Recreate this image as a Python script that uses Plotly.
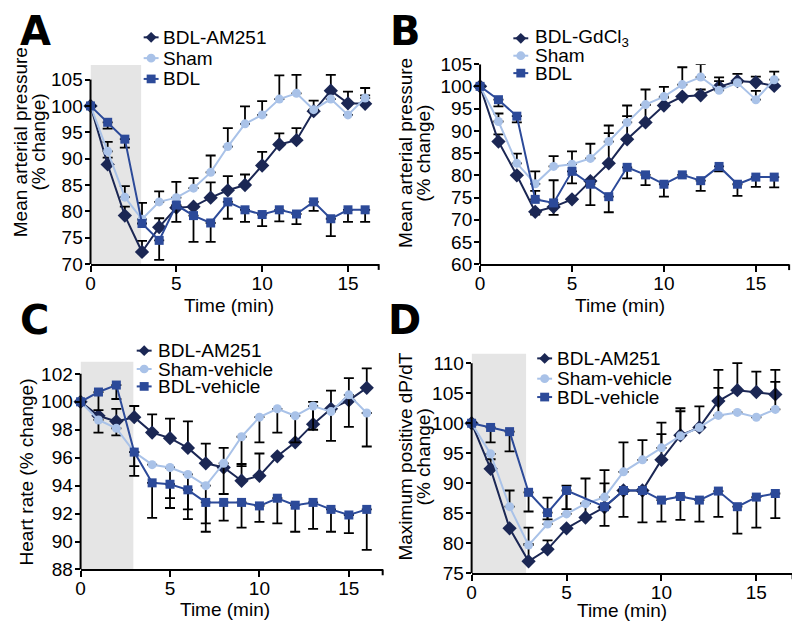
import plotly.graph_objects as go

W, H = 800, 636

time_min = list(range(17))

# ---- panel A : mean arterial pressure, AM251 ----
a_am251 = [100, 88.9, 79.2, 72.3, 77.0, 80.7, 80.9, 82.6, 84.0, 85.0, 88.7, 92.7, 93.5, 99.0, 102.9, 100.5, 100.4]
a_sham = [100, 91.4, 82.7, 78.5, 81.8, 82.6, 84.4, 87.4, 92.3, 96.6, 98.3, 101.3, 102.4, 99.3, 101.3, 98.3, 101.5]
a_bdl = [100, 96.9, 93.7, 77.7, 74.5, 81.2, 79.2, 77.8, 81.8, 80.3, 79.4, 80.3, 79.5, 81.8, 78.6, 80.3, 80.3]
a_am251_up = [0, 1.3, 1.7, 2.1, 1.7, 0, 0, 2.9, 2.7, 2.0, 2.6, 2.1, 2.3, 2.0, 3.0, 2.2, 1.6]
a_am251_dn = [0] * 17
a_sham_up = [0, 1.8, 2.1, 3.1, 2.0, 3.0, 1.9, 3.2, 3.5, 3.3, 2.6, 4.5, 3.5, 0, 0, 0, 1.9]
a_sham_dn = [0] * 17
a_bdl_up = [0] * 17
a_bdl_dn = [0, 1.2, 1.6, 0, 3.7, 3.2, 5.0, 3.6, 3.2, 2.3, 2.2, 2.2, 1.9, 1.7, 3.3, 2.3, 2.3]

# ---- panel B : mean arterial pressure, GdCl3 ----
b_gdcl3 = [100, 87.6, 80.0, 71.8, 72.9, 74.6, 78.7, 82.7, 88.1, 91.9, 95.7, 97.7, 98.0, 99.9, 101.2, 100.9, 100.1]
b_sham = [100, 92.1, 82.7, 78.1, 82.0, 82.5, 83.8, 87.6, 91.9, 95.9, 97.7, 100.4, 102.1, 99.1, 100.8, 97.0, 101.5]
b_bdl = [100, 97.0, 93.3, 74.6, 73.8, 80.9, 78.0, 75.2, 81.8, 80.1, 78.0, 80.1, 78.8, 82.0, 78.0, 79.6, 79.6]
b_gdcl3_up = [0, 1.6, 0, 0, 0, 0, 0, 6.8, 5.2, 3.9, 1.8, 0, 1.3, 1.3, 1.6, 1.3, 0]
b_gdcl3_dn = [0, 0, 0, 0.6, 1.8, 0, 0, 0, 0, 0, 0, 0, 0, 0, 0, 0, 0]
b_sham_up = [0, 1.8, 2.2, 2.8, 2.3, 2.9, 3.3, 3.6, 3.8, 3.4, 2.2, 3.9, 2.9, 2.9, 0, 2.0, 1.8]
b_sham_dn = [0] * 17
b_bdl_up = [0, 0, 0, 1.9, 5.1, 0, 0, 0, 0, 0, 0, 0, 0, 0, 0, 0, 0]
b_bdl_dn = [0, 1.5, 1.4, 0, 0, 2.7, 4.7, 3.5, 2.5, 2.3, 2.8, 0, 2.3, 1.1, 2.6, 2.2, 2.3]

# ---- panel C : heart rate ----
c_am251 = [100, 99.0, 98.6, 98.9, 97.8, 97.4, 96.7, 95.6, 95.3, 94.35, 94.7, 96.1, 97.1, 98.4, 99.5, 100.1, 101.0]
c_sham = [100, 98.7, 98.1, 96.4, 95.5, 95.3, 94.8, 94.0, 95.6, 97.5, 98.9, 99.5, 99.0, 99.7, 99.3, 100.5, 99.2]
c_bdl = [100, 100.7, 101.2, 96.4, 94.2, 94.1, 93.7, 92.8, 92.8, 92.8, 92.55, 93.1, 92.6, 92.8, 92.3, 91.9, 92.3]
c_am251_up = [0, 0, 0.9, 0.8, 1.3, 1.4, 1.9, 1.4, 1.4, 1.2, 1.6, 0, 0, 1.6, 1.3, 1.6, 1.4]
c_am251_dn = [0, 1.2, 0, 0, 0, 0, 0, 0, 0, 0, 0, 0, 0, 0, 0, 0, 0]
c_sham_up = [0] * 17
c_sham_dn = [0, 0, 0.5, 1.7, 0, 2.2, 2.5, 2.7, 2.2, 2.1, 1.8, 1.7, 1.9, 1.7, 2.1, 2.3, 2.4]
c_bdl_up = [0] * 17
c_bdl_dn = [0, 1.3, 1.0, 1.0, 2.5, 1.7, 2.1, 2.1, 1.3, 1.8, 1.15, 1.8, 1.9, 1.9, 1.6, 1.3, 2.9]

# ---- panel D : maximum positive dP/dT ----
d_am251 = [100, 92.4, 82.5, 77.0, 79.0, 82.5, 84.3, 86.0, 88.8, 88.8, 93.9, 98.0, 99.3, 103.7, 105.5, 105.2, 104.8]
d_sham = [100, 94.9, 86.1, 79.7, 83.2, 84.9, 86.6, 87.7, 91.9, 93.9, 95.9, 97.9, 99.3, 101.3, 101.8, 101.0, 102.3]
d_bdl = [100, 99.3, 98.6, 88.5, 85.1, 88.8, None, 86.1, 88.8, 88.8, 87.2, 87.8, 87.2, 88.7, 86.1, 87.7, 88.3]
d_am251_up = [0, 1.6, 0, 2.9, 1.5, 0, 2.4, 4.0, 0, 0, 4.3, 4.5, 3.5, 5.2, 4.5, 3.4, 4.1]
d_am251_dn = [0] * 17
d_sham_up = [0, 0, 2.7, 2.9, 4.4, 4.7, 4.2, 4.5, 4.9, 3.3, 4.2, 4.1, 0, 4.6, 0, 0, 4.6]
d_sham_dn = [0] * 17
d_bdl_up = [0] * 17
d_bdl_dn = [0, 2.5, 3.3, 3.2, 1.1, 3.1, 0, 3.2, 4.4, 5.3, 3.6, 3.9, 3.6, 4.3, 4.5, 5.1, 4.1]

NAVY = "#1b2754"
LIGHT = "#a9c2e8"
BLUE = "#2c4a99"
SHADE = "#e5e5e5"
FONT = "Liberation Sans, Arial, sans-serif"
FS = 19
OFF = 8  # page body margin pushes the figure 8px right and down


def pxx(x):
    return (x - OFF) / W


def pxy(y):
    return 1 - (y - OFF) / H


# panel boxes in pixels: left, right (x axis end), bottom, top
panels = [
    dict(n=1, name="A", box=(86, 376, 262.5, 56.7), xr=16.79, yr=(70, 107.75), yticks=list(range(70, 106, 5)),
         shade=2.95,
         series=[("BDL-AM251", a_am251, a_am251_up, a_am251_dn, NAVY, "diamond"),
                 ("Sham", a_sham, a_sham_up, a_sham_dn, LIGHT, "circle"),
                 ("BDL", a_bdl, a_bdl_up, a_bdl_dn, BLUE, "square")],
         legend=(147, 157, [28, 49.5, 71]),
         ytitle=["Mean arterial pressure", "(% change)"], ytitle_x=[15.5, 34], ytitle_y=136,
         xtitle=(225, 305), letter=(31, 21)),
    dict(n=2, name="B", box=(478, 789, 262.7, 55.7), xr=16.81, yr=(60, 105), yticks=list(range(60, 106, 5)),
         shade=None,
         series=[("BDL-GdCl<sub>3</sub>", b_gdcl3, b_gdcl3_up, b_gdcl3_dn, NAVY, "diamond"),
                 ("Sham", b_sham, b_sham_up, b_sham_dn, LIGHT, "circle"),
                 ("BDL", b_bdl, b_bdl_up, b_bdl_dn, BLUE, "square")],
         legend=(519, 531, [29, 47, 65]),
         ytitle=["Mean arterial pressure", "(% change)"], ytitle_x=[403, 421], ytitle_y=148,
         xtitle=(619, 305), letter=(403, 21)),
    dict(n=3, name="C", box=(76, 380, 578.3, 363.3), xr=16.89, yr=(88, 102.88), yticks=list(range(88, 103, 2)),
         shade=2.95,
         series=[("BDL-AM251", c_am251, c_am251_up, c_am251_dn, NAVY, "diamond"),
                 ("Sham-vehicle", c_sham, c_sham_up, c_sham_dn, LIGHT, "circle"),
                 ("BDL-vehicle", c_bdl, c_bdl_up, c_bdl_dn, BLUE, "square")],
         legend=(140, 152, [352, 371, 389]),
         ytitle=["Heart rate (% change)"], ytitle_x=[22], ytitle_y=477,
         xtitle=(221, 620), letter=(30, 320)),
    dict(n=4, name="D", box=(469.5, 792.5, 582.3, 355), xr=16.91, yr=(75, 111.61), yticks=list(range(75, 111, 5)),
         shade=2.87,
         series=[("BDL-AM251", d_am251, d_am251_up, d_am251_dn, NAVY, "diamond"),
                 ("Sham-vehicle", d_sham, d_sham_up, d_sham_dn, LIGHT, "circle"),
                 ("BDL-vehicle", d_bdl, d_bdl_up, d_bdl_dn, BLUE, "square")],
         legend=(543, 553, [360, 381, 400]),
         ytitle=["Maximum positive dP/dT", "(% change)"], ytitle_x=[402, 421], ytitle_y=462,
         xtitle=(621, 621), letter=(402, 320)),
]

marker_size = {"diamond": 11, "circle": 9, "square": 9}
shapes = []
annotations = []
layout_axes = {}
traces = []

for p in panels:
    n = p["n"]
    xa = "x" if n == 1 else f"x{n}"
    ya = "y" if n == 1 else f"y{n}"
    left, right, bottom, top = p["box"]
    layout_axes["xaxis" if n == 1 else f"xaxis{n}"] = dict(
        domain=[pxx(left), pxx(right)], range=[0, p["xr"]], anchor=ya,
        showline=True, linecolor="black", linewidth=2,
        ticks="outside", ticklen=6, tickwidth=2, tickcolor="black",
        tickvals=[0, 5, 10, 15], ticklabelstandoff=-5,
        showgrid=False, zeroline=False,
        tickfont=dict(family=FONT, size=FS, color="black"))
    layout_axes["yaxis" if n == 1 else f"yaxis{n}"] = dict(
        domain=[pxy(bottom), pxy(top)], range=list(p["yr"]), anchor=xa,
        showline=False, ticks="outside", ticklen=5, tickwidth=2, tickcolor="black",
        tickvals=p["yticks"], ticklabelstandoff=-2, showgrid=False, zeroline=False,
        tickfont=dict(family=FONT, size=FS, color="black"))

    # grey period
    if p["shade"]:
        shapes.append(dict(type="rect", xref=xa, yref=ya, x0=0, x1=p["shade"], y0=p["yr"][0], y1=p["yr"][1],
                           fillcolor=SHADE, line=dict(width=0), layer="below"))
    # y axis line up to the top tick
    shapes.append(dict(type="line", xref=f"{xa} domain", yref=ya, x0=0, x1=0,
                       y0=p["yr"][0], y1=p["yticks"][-1], line=dict(color="black", width=2)))
    # end tick of the x axis
    shapes.append(dict(type="line", xref=f"{xa} domain", yref="paper", x0=1, x1=1,
                       y0=pxy(bottom), y1=pxy(bottom + 6), line=dict(color="black", width=2)))

    for label, vals, up, dn, color, sym in p["series"]:
        traces.append(go.Scatter(
            x=time_min, y=vals, xaxis=xa, yaxis=ya, mode="lines+markers",
            connectgaps=True, showlegend=False, cliponaxis=False,
            line=dict(color=color, width=2),
            marker=dict(symbol=sym, size=marker_size[sym], color=color),
            error_y=dict(type="data", symmetric=False, array=up, arrayminus=dn,
                         color="black", thickness=1.8, width=5)))

    # hand-drawn legend
    sx, tx, rows = p["legend"]
    for (label, vals, up, dn, color, sym), ry in zip(p["series"], rows):
        shapes.append(dict(type="line", xref="paper", yref="paper",
                           x0=pxx(sx - 7.5), x1=pxx(sx + 7.5), y0=pxy(ry), y1=pxy(ry),
                           line=dict(color=color, width=2)))
        r = marker_size[sym] / 2
        if sym == "diamond":
            path = (f"M {pxx(sx)},{pxy(ry - r)} L {pxx(sx + r)},{pxy(ry)} "
                    f"L {pxx(sx)},{pxy(ry + r)} L {pxx(sx - r)},{pxy(ry)} Z")
            shapes.append(dict(type="path", xref="paper", yref="paper", path=path,
                               fillcolor=color, line=dict(width=0)))
        else:
            shapes.append(dict(type="circle" if sym == "circle" else "rect", xref="paper", yref="paper",
                               x0=pxx(sx - r), x1=pxx(sx + r), y0=pxy(ry + r), y1=pxy(ry - r),
                               fillcolor=color, line=dict(width=0)))
        annotations.append(dict(text=label, xref="paper", yref="paper", x=pxx(tx), y=pxy(ry),
                                xanchor="left", yanchor="middle", showarrow=False,
                                font=dict(family=FONT, size=FS, color="black")))

    # titles
    for t, tx_ in zip(p["ytitle"], p["ytitle_x"]):
        annotations.append(dict(text=t, xref="paper", yref="paper", x=pxx(tx_), y=pxy(p["ytitle_y"]),
                                xanchor="center", yanchor="middle", textangle=-90, showarrow=False,
                                font=dict(family=FONT, size=FS, color="black")))
    annotations.append(dict(text="Time (min)", xref="paper", yref="paper",
                            x=pxx(p["xtitle"][0]), y=pxy(p["xtitle"][1]),
                            xanchor="center", yanchor="middle", showarrow=False,
                            font=dict(family=FONT, size=FS, color="black")))
    annotations.append(dict(text=f"<b>{p['name']}</b>", xref="paper", yref="paper",
                            x=pxx(p["letter"][0]), y=pxy(p["letter"][1]),
                            xanchor="center", yanchor="middle", showarrow=False,
                            font=dict(family="DejaVu Sans, sans-serif", size=40, color="black")))

fig = go.Figure(data=traces)

fig.update_layout(
    width=W, height=H, margin=dict(l=0, r=0, t=0, b=0),
    paper_bgcolor="white", plot_bgcolor="white",
    showlegend=False, shapes=shapes, annotations=annotations,
    font=dict(family=FONT, size=FS, color="black"),
    **layout_axes)

fig.write_html("out.html")
